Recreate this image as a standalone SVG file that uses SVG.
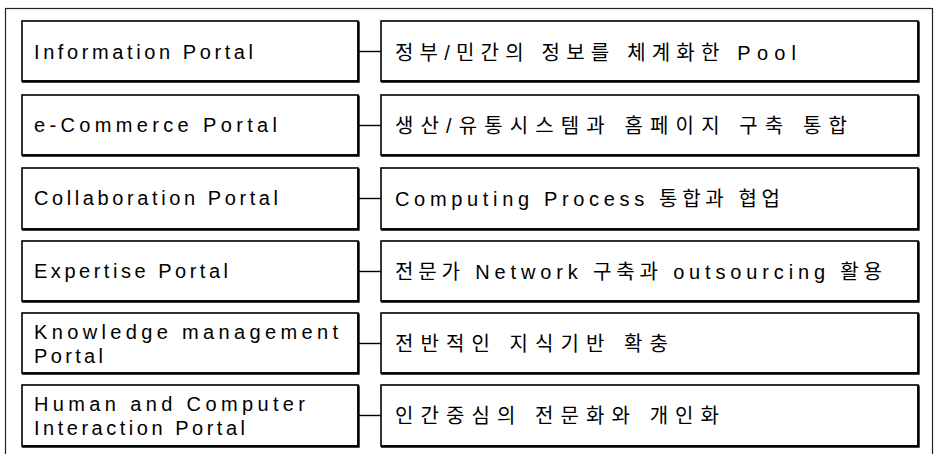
<svg xmlns="http://www.w3.org/2000/svg" width="935" height="454" viewBox="0 0 935 454">
<style>
.frame{fill:none;stroke:#222;stroke-width:1.2}
.box{fill:#fff;stroke:#000;stroke-width:1.6}
.sh{fill:none;stroke:#000;stroke-width:2.4}
.conn line{stroke:#000;stroke-width:1.4}
text{font-family:"Liberation Sans","Noto Sans CJK KR",Arial,sans-serif;font-size:20px;fill:#000}
.k{font-size:20px}
</style>
<rect class="frame" x="5.5" y="8.5" width="927" height="460"/>
<g id="connectors" class="conn">
<line x1="358" y1="51.5" x2="381" y2="51.5"/>
<line x1="358" y1="125.5" x2="381" y2="125.5"/>
<line x1="358" y1="198.5" x2="381" y2="198.5"/>
<line x1="358" y1="271.5" x2="381" y2="271.5"/>
<line x1="358" y1="343.5" x2="381" y2="343.5"/>
<line x1="358" y1="415.5" x2="381" y2="415.5"/>
</g>
<g id="n1">
<rect class="box" x="22" y="21" width="336" height="60"/><path class="sh" d="M358.5,21.5V81.5H22"/>
<text x="34" y="59" textLength="219" lengthAdjust="spacing">Information Portal</text>
</g>
<g id="n1d">
<rect class="box" x="381" y="21" width="537" height="60"/><path class="sh" d="M918.5,21.5V81.5H381"/>
<text class="k" x="395" y="60" textLength="401" lengthAdjust="spacing">정부/민간의 정보를 체계화한 Pool</text>
</g>
<g id="n2">
<rect class="box" x="22" y="95" width="336" height="60"/><path class="sh" d="M358.5,95.5V155.5H22"/>
<text x="34" y="132" textLength="243" lengthAdjust="spacing">e-Commerce Portal</text>
</g>
<g id="n2d">
<rect class="box" x="381" y="95" width="537" height="60"/><path class="sh" d="M918.5,95.5V155.5H381"/>
<text class="k" x="395" y="133" textLength="452" lengthAdjust="spacing">생산/유통시스템과 홈페이지 구축 통합</text>
</g>
<g id="n3">
<rect class="box" x="22" y="168" width="336" height="61"/><path class="sh" d="M358.5,168.5V229.5H22"/>
<text x="34" y="205" textLength="244" lengthAdjust="spacing">Collaboration Portal</text>
</g>
<g id="n3d">
<rect class="box" x="381" y="168" width="537" height="61"/><path class="sh" d="M918.5,168.5V229.5H381"/>
<text class="k" x="395" y="206" textLength="385" lengthAdjust="spacing">Computing Process 통합과 협업</text>
</g>
<g id="n4">
<rect class="box" x="22" y="241" width="336" height="60"/><path class="sh" d="M358.5,241.5V301.5H22"/>
<text x="34" y="278" textLength="194" lengthAdjust="spacing">Expertise Portal</text>
</g>
<g id="n4d">
<rect class="box" x="381" y="241" width="537" height="60"/><path class="sh" d="M918.5,241.5V301.5H381"/>
<text class="k" x="395" y="279" textLength="487" lengthAdjust="spacing">전문가 Network 구축과 outsourcing 활용</text>
</g>
<g id="n5">
<rect class="box" x="22" y="313" width="336" height="60"/><path class="sh" d="M358.5,313.5V373.5H22"/>
<text x="34" y="339" textLength="304" lengthAdjust="spacing">Knowledge management</text>
<text x="34" y="363" textLength="69" lengthAdjust="spacing">Portal</text>
</g>
<g id="n5d">
<rect class="box" x="381" y="313" width="537" height="60"/><path class="sh" d="M918.5,313.5V373.5H381"/>
<text class="k" x="395" y="351" textLength="273" lengthAdjust="spacing">전반적인 지식기반 확충</text>
</g>
<g id="n6">
<rect class="box" x="22" y="385" width="336" height="61"/><path class="sh" d="M358.5,385.5V446.5H22"/>
<text x="34" y="411" textLength="271" lengthAdjust="spacing">Human and Computer</text>
<text x="34" y="435" textLength="211" lengthAdjust="spacing">Interaction Portal</text>
</g>
<g id="n6d">
<rect class="box" x="381" y="385" width="537" height="61"/><path class="sh" d="M918.5,385.5V446.5H381"/>
<text class="k" x="395" y="423" textLength="324" lengthAdjust="spacing">인간중심의 전문화와 개인화</text>
</g>
</svg>
